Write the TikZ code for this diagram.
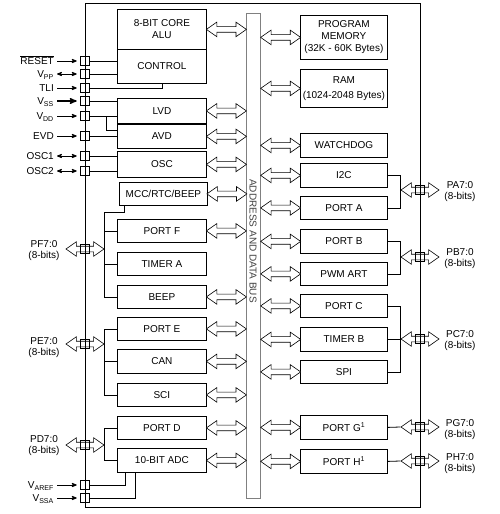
\documentclass[tikz,border=0pt]{standalone}
\usepackage{fontspec}
\setmainfont{Liberation Sans}
\usepackage{color}
\usepackage{tikz}
\usetikzlibrary{shapes.arrows, arrows}
\tikzset{
    blk/.style={draw, fill=white, line width=0.8pt, inner sep=0pt,
        anchor=north west, align=center, minimum width=89pt},
    rblk/.style={blk, minimum width=87pt},
    pin/.style={draw, line width=0.6pt, minimum size=9pt, inner sep=0pt},
    busarrow/.style={
        double arrow, draw, fill=white, line width=0.6pt,
        inner xsep=0pt, inner ysep=2.5pt, minimum height=40pt,
        double arrow head extend=4.5pt, double arrow tip angle=70
    },
    pinarrow/.style={busarrow, minimum height=38pt},
    sig/.style={line width=0.8pt},
    pinlabel/.style={anchor=east, inner sep=0pt, text height=7pt, text depth=0pt},
    portlabel/.style={align=center, inner sep=0pt, font=\fontsize{10}{11}\selectfont},
    >=stealth'
}

\begin{document}
\begin{tikzpicture}[x=1pt, y=-1pt]
	\useasboundingbox (0,0) rectangle (499,514);
	\node[blk, minimum height=40pt] at (117,9) (alu) {8-BIT CORE\\ALU};
	\node[blk, minimum height=34pt] at (117,49) (ctrl) {CONTROL};
	\node[blk, minimum height=25pt] at (117,98) (lvd) {LVD};
	\node[blk, minimum height=24pt] at (117,124) (avd) {AVD};
	\node[blk, minimum height=26pt] at (117,151) (osc) {OSC};
	\node[blk, minimum height=23pt, minimum width=88pt] at (119,182) (mcc) {MCC/RTC/BEEP};
	\node[blk, minimum height=23pt] at (117,219) (portf) {PORT F};
	\node[blk, minimum height=23pt] at (117,252) (tima) {TIMER A};
	\node[blk, minimum height=23pt] at (117,285) (beep) {BEEP};
	\node[blk, minimum height=23pt] at (117,317) (porte) {PORT E};
	\node[blk, minimum height=24pt] at (117,349) (can) {CAN};
	\node[blk, minimum height=23pt] at (117,383) (sci) {SCI};
	\node[blk, minimum height=23pt] at (117,416) (portd) {PORT D};
	\node[blk, minimum height=24pt] at (117,448) (adc) {10-BIT ADC};

	\node[rblk, minimum height=44pt] at (300,15) (pmem) {PROGRAM\\MEMORY\\(32K - 60K Bytes)};
	\node[rblk, minimum height=38pt] at (300,69) (ram) {RAM\\[3pt](1024-2048 Bytes)};
	\node[rblk, minimum height=24pt] at (300,133) (wdg) {WATCHDOG};
	\node[rblk, minimum height=24pt] at (300,163) (i2c) {I2C};
	\node[rblk, minimum height=23pt] at (300,196) (porta) {PORT A};
	\node[rblk, minimum height=24pt] at (300,229) (portb) {PORT B};
	\node[rblk, minimum height=23pt] at (300,262) (pwm) {PWM ART};
	\node[rblk, minimum height=23pt] at (300,294) (portc) {PORT C};
	\node[rblk, minimum height=24pt] at (300,327) (timb) {TIMER B};
	\node[rblk, minimum height=23pt] at (300,360) (spi) {SPI};
	\node[rblk, minimum height=24pt] at (300,415) (portg) {PORT G\textsuperscript{1}};
	\node[rblk, minimum height=24pt] at (300,449) (porth) {PORT H\textsuperscript{1}};

	\node[draw=gray, line width=1.3pt, anchor=north west, inner sep=0pt,
		minimum width=14pt, minimum height=485pt] at (246,13) (bus) {};
	\node[rotate=-90, text=darkgray] at (253,241) {ADDRESS AND DATA BUS};

	\foreach \b in {alu,lvd,avd,osc,mcc,portf,beep,porte,can,sci,portd,adc}
		\path (\b.east) -- (\b.east -| bus.west) node[midway, busarrow] {};
	\foreach \b in {pmem,ram,wdg,i2c,porta,portb,pwm,portc,timb,spi,portg,porth}
		\path (bus.east |- \b.west) -- (\b.west) node[midway, busarrow] {};

	\node[pinarrow] at (85,249) (pfarr) {};
	\node[pinarrow] at (85,344) (pearr) {};
	\node[pinarrow] at (85,445) (pdarr) {};
	\node[pinarrow] at (420,190) (paarr) {};
	\node[pinarrow] at (420,257) (pbarr) {};
	\node[pinarrow] at (420,339) (pcarr) {};
	\node[pinarrow] at (420,427) (pgarr) {};
	\node[pinarrow] at (420,461) (pharr) {};

	\node[pin] at (85,61) (rst) {};
	\node[pin] at (85,74) (vpp) {};
	\node[pin] at (85,88) (tli) {};
	\node[pin] at (85,101) (vss) {};
	\node[pin] at (85,116) (vdd) {};
	\node[pin] at (85,136) (evd) {};
	\node[pin] at (85,156) (osca) {};
	\node[pin] at (85,171) (oscb) {};
	\node[pin] at (85,249) (pf) {};
	\node[pin] at (85,344) (pe) {};
	\node[pin] at (85,445) (pd) {};
	\node[pin] at (85,485) (vref) {};
	\node[pin] at (85,498) (vssa) {};
	\node[pin] at (420,190) (pa) {};
	\node[pin] at (420,257) (pb) {};
	\node[pin] at (420,339) (pc) {};
	\node[pin] at (420,427) (pg) {};
	\node[pin] at (420,461) (ph) {};

	\node[pinlabel] at (54,61) (lrst) {$\overline{\mbox{RESET}}$};
	\node[pinlabel] at (54,74) (lvpp) {V\textsubscript{PP}};
	\node[pinlabel] at (54,88) (ltli) {TLI};
	\node[pinlabel] at (54,101) (lvss) {V\textsubscript{SS}};
	\node[pinlabel] at (54,116) (lvdd) {V\textsubscript{DD}};
	\node[pinlabel] at (54,136) (levd) {EVD};
	\node[pinlabel] at (54,156) (losca) {OSC1};
	\node[pinlabel] at (54,171) (loscb) {OSC2};
	\node[pinlabel] at (54,485) (lvref) {V\textsubscript{AREF}};
	\node[pinlabel] at (54,498) (lvssa) {V\textsubscript{SSA}};

	\node[portlabel] at (44,251) {PF7:0\\(8-bits)};
	\node[portlabel] at (44,348) {PE7:0\\(8-bits)};
	\node[portlabel] at (44,446) {PD7:0\\(8-bits)};
	\node[portlabel] at (460,192) {PA7:0\\(8-bits)};
	\node[portlabel] at (460,259) {PB7:0\\(8-bits)};
	\node[portlabel] at (460,341) {PC7:0\\(8-bits)};
	\node[portlabel] at (460,430) {PG7:0\\(8-bits)};
	\node[portlabel] at (460,464) {PH7:0\\(8-bits)};

	\draw[sig, ->, shorten <=3pt, shorten >=3.5pt] (lrst.east) -- (rst.west);
	\draw[sig, <->, shorten <=3pt, shorten >=3.5pt] (lvpp.east) -- (vpp.west);
	\draw[sig, ->, shorten <=3pt, shorten >=3.5pt] (ltli.east) -- (tli.west);
	\draw[->, line width=1.4pt, shorten <=3pt, shorten >=3.5pt] (lvss.east) -- (vss.west);
	\draw[sig, ->, shorten <=3pt, shorten >=3.5pt] (lvdd.east) -- (vdd.west);
	\draw[sig, ->, shorten <=3pt, shorten >=3.5pt] (levd.east) -- (evd.west);
	\draw[sig, <->, shorten <=3pt, shorten >=3.5pt] (losca.east) -- (osca.west);
	\draw[sig, <->, shorten <=3pt, shorten >=3.5pt] (loscb.east) -- (oscb.west);
	\draw[sig, ->, shorten <=3pt, shorten >=3.5pt] (lvref.east) -- (vref.west);
	\draw[sig, ->, shorten <=3pt, shorten >=3.5pt] (lvssa.east) -- (vssa.west);

	\draw[sig] (rst.east) -- (rst.east -| ctrl.west);
	\draw[sig] (vpp.east) -- (vpp.east -| ctrl.west);
	\draw[sig] (tli.east) -| ([xshift=45pt]ctrl.south west);
	\draw[sig] (vss.east) -- (vss.east -| lvd.west);
	\draw[sig] (vdd.east) -- (vdd.east -| lvd.west);
	\draw[sig] ([xshift=16.5pt]vdd.east) |- ([yshift=6pt]avd.west);
	\draw[sig] (evd.east) -- (evd.east -| avd.west);
	\draw[sig] (osca.east) -- (osca.east -| osc.west);
	\draw[sig] (oscb.east) -- (oscb.east -| osc.west);
	\draw[sig] (vref.east) -| ([xshift=8pt]adc.south west);
	\draw[sig] (vssa.east) -| ([xshift=18pt]adc.south west);

	\draw[sig] ([xshift=5pt]mcc.south west) -- ++(0,7) -| (pfarr.east |- beep.west) -- (beep.west);
	\draw[sig] (portf.west) -- (portf.west -| pfarr.east);
	\draw[sig] (tima.west) -- (tima.west -| pfarr.east);
	\draw[sig] (porte.west) -| (pearr.east |- sci.west) -- (sci.west);
	\draw[sig] (can.west) -- (can.west -| pearr.east);
	\draw[sig] (portd.west) -| (pdarr.east |- adc.west) -- (adc.west);

	\draw[sig] (i2c.east) -| (paarr.west |- porta.east) -- (porta.east);
	\draw[sig] (portb.east) -| (pbarr.west |- pwm.east) -- (pwm.east);
	\draw[sig] (portc.east) -| (pcarr.west |- spi.east) -- (spi.east);
	\draw[sig] (timb.east) -- (timb.east -| pcarr.west);
	\draw[sig] (portg.east) -- (pgarr.west);
	\draw[sig] (porth.east) -- (pharr.west);

	\draw[sig] (85,3) rectangle (420,507);
\end{tikzpicture}
\end{document}
